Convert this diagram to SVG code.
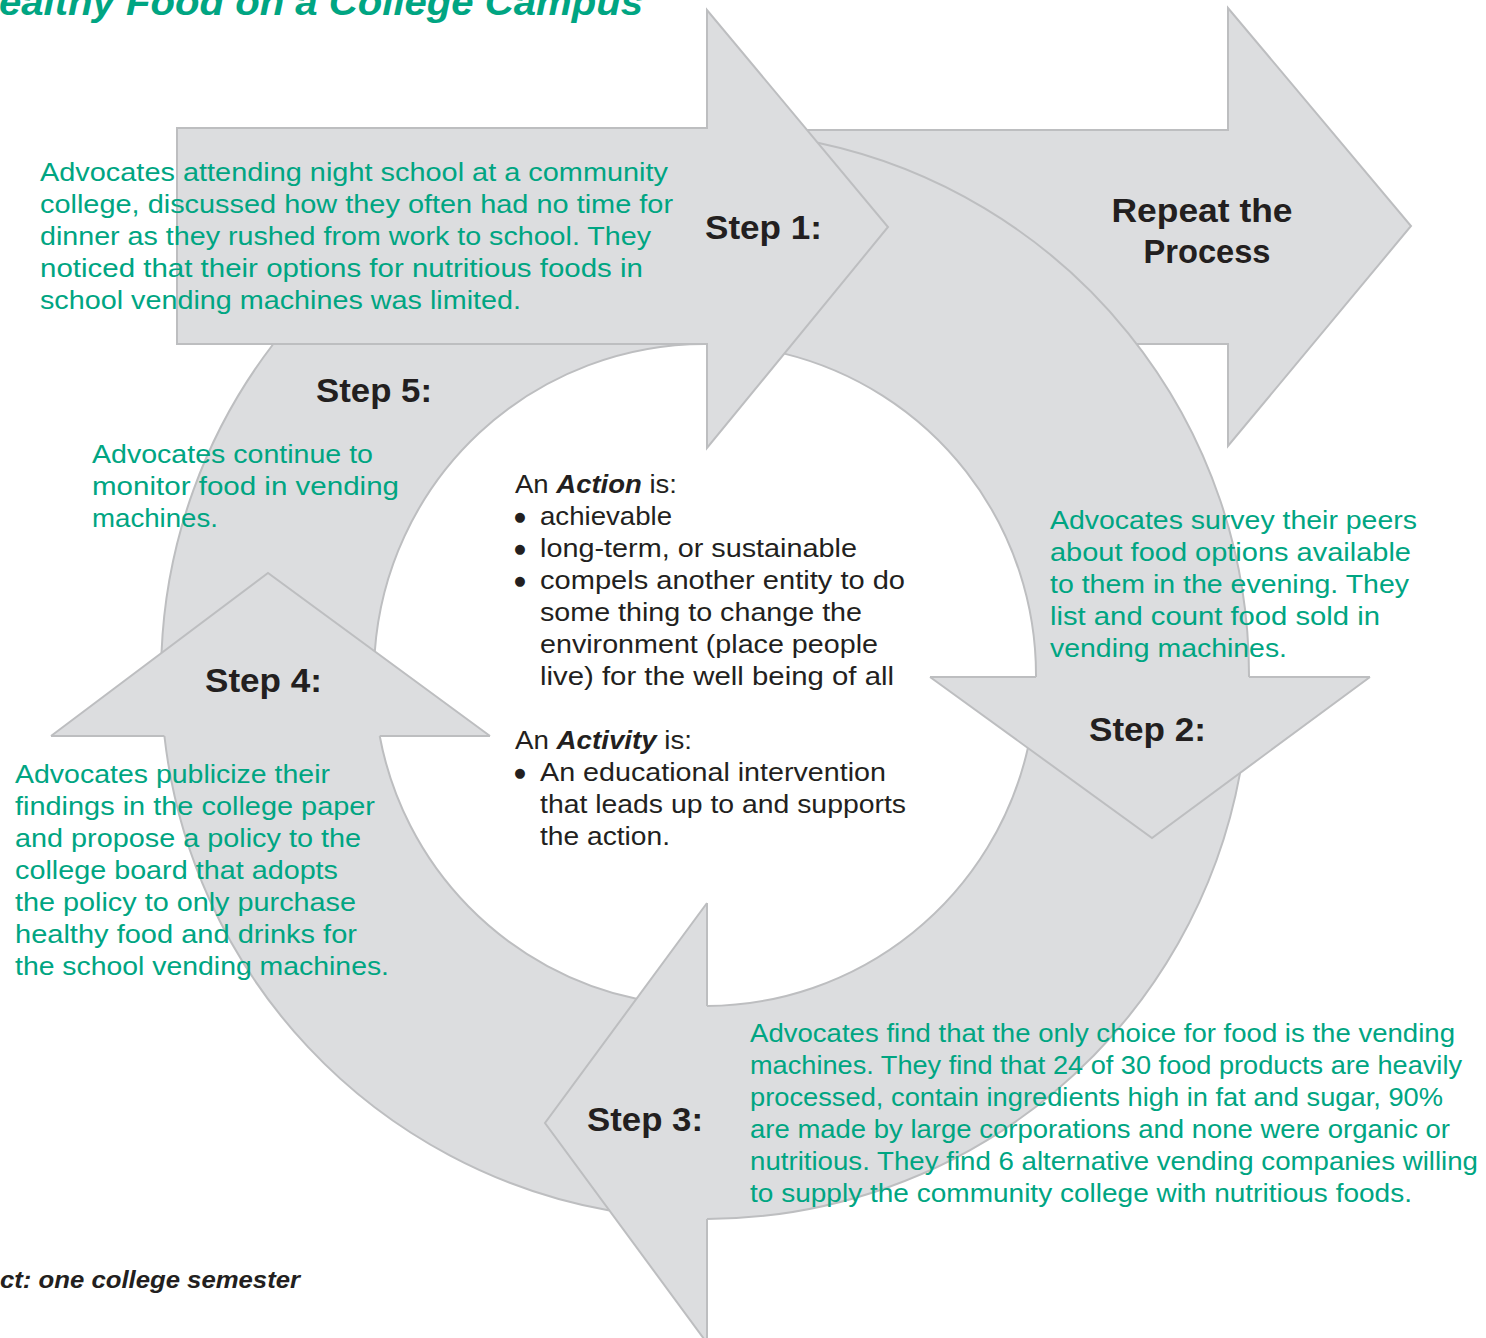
<svg xmlns="http://www.w3.org/2000/svg" width="1486" height="1338" viewBox="0 0 1486 1338">
<style>
.fill{fill:#dcdddf;stroke:none}
.edge{fill:none;stroke:#bdbec0;stroke-width:2;stroke-linejoin:miter}
.g{font-family:"Liberation Sans",Arial,sans-serif;font-size:25px;fill:#00a582}
.b{font-family:"Liberation Sans",Arial,sans-serif;font-size:25px;fill:#231f20}
.bul{font-family:"DejaVu Sans",sans-serif;font-size:13px;fill:#231f20;text-anchor:middle;dominant-baseline:central}
.lab{font-family:"Liberation Sans",Arial,sans-serif;font-size:33px;font-weight:bold;fill:#231f20}
.bi{font-weight:bold;font-style:italic}
</style>
<rect x="0" y="0" width="1486" height="1338" fill="#ffffff"/>
<text x="-1" y="15" class="g" style="font-size:36px;font-weight:bold;font-style:italic" textLength="644" lengthAdjust="spacingAndGlyphs">ealthy Food on a College Campus</text>
<text x="0" y="1288" class="b" style="font-size:24px;font-weight:bold;font-style:italic" textLength="300" lengthAdjust="spacingAndGlyphs">ct: one college semester</text>

<g id="node-repeat">
<polygon class="fill" points="720,130 1228,130 1228,8 1411,226 1228,446 1228,344 720,344"/>
<path class="edge" d="M807 130 L1228 130 L1228 8 L1411 226 L1228 446 L1228 344 L1136.7 344"/>
<text x="1202" y="222" class="lab" text-anchor="middle" textLength="181" lengthAdjust="spacingAndGlyphs">Repeat the</text>
<text x="1207" y="263" class="lab" text-anchor="middle" textLength="127" lengthAdjust="spacingAndGlyphs">Process</text>
</g>

<g id="connectors">
<path class="fill" fill-rule="evenodd" d="M161 675 A544 544 0 1 0 1249 675 A544 544 0 1 0 161 675 Z M374 675 A331 331 0 1 0 1036 675 A331 331 0 1 0 374 675 Z"/>
<path class="edge" d="M817.8 142.8 A544 544 0 0 1 1249 677 M1240.1 772.9 A544 544 0 0 1 707 1219 M609.5 1210.6 A544 544 0 0 1 164.4 736 M161.5 653 A544 544 0 0 1 273.3 344"/>
<path class="edge" d="M784.3 353.6 A331 331 0 0 1 1036 677 M1027.9 748 A331 331 0 0 1 707 1006 M636.4 998.8 A331 331 0 0 1 379.7 736 M374.8 651.5 A331 331 0 0 1 705 344"/>
</g>

<g id="node-step1">
<polygon class="fill" points="177,128 707,128 707,10 888,227 707,448 707,344 177,344"/>
<polygon class="edge" points="177,128 707,128 707,10 888,227 707,448 707,344 177,344"/>
<text x="705" y="239" class="lab" textLength="117" lengthAdjust="spacingAndGlyphs">Step 1:</text>
<text class="g" x="40" y="181" textLength="628" lengthAdjust="spacingAndGlyphs">Advocates attending night school at a community</text>
<text class="g" x="40" y="213" textLength="633" lengthAdjust="spacingAndGlyphs">college, discussed how they often had no time for</text>
<text class="g" x="40" y="245" textLength="611" lengthAdjust="spacingAndGlyphs">dinner as they rushed from work to school. They</text>
<text class="g" x="40" y="277" textLength="603" lengthAdjust="spacingAndGlyphs">noticed that their options for nutritious foods in</text>
<text class="g" x="40" y="309" textLength="481" lengthAdjust="spacingAndGlyphs">school vending machines was limited.</text>
</g>

<g id="node-step2">
<polygon class="fill" points="930,677 1370,677 1152,838"/>
<path class="edge" d="M930 677 L1036 677 M1249 677 L1370 677 M930 677 L1152 838 L1370 677"/>
<text x="1089" y="741" class="lab" textLength="117" lengthAdjust="spacingAndGlyphs">Step 2:</text>
<text class="g" x="1050" y="529" textLength="367" lengthAdjust="spacingAndGlyphs">Advocates survey their peers</text>
<text class="g" x="1050" y="561" textLength="361" lengthAdjust="spacingAndGlyphs">about food options available</text>
<text class="g" x="1050" y="593" textLength="359" lengthAdjust="spacingAndGlyphs">to them in the evening. They</text>
<text class="g" x="1050" y="625" textLength="330" lengthAdjust="spacingAndGlyphs">list and count food sold in</text>
<text class="g" x="1050" y="657" textLength="237" lengthAdjust="spacingAndGlyphs">vending machines.</text>
</g>

<g id="node-step3">
<polygon class="fill" points="707,903 545,1123 707,1343"/>
<path class="edge" d="M707 903 L707 1006 M707 1219 L707 1345 M707 903 L545 1123 L707 1343"/>
<text x="587" y="1131" class="lab" textLength="116" lengthAdjust="spacingAndGlyphs">Step 3:</text>
<text class="g" x="750" y="1042" textLength="705" lengthAdjust="spacingAndGlyphs">Advocates find that the only choice for food is the vending</text>
<text class="g" x="750" y="1074" textLength="712" lengthAdjust="spacingAndGlyphs">machines. They find that 24 of 30 food products are heavily</text>
<text class="g" x="750" y="1106" textLength="693" lengthAdjust="spacingAndGlyphs">processed, contain ingredients high in fat and sugar, 90%</text>
<text class="g" x="750" y="1138" textLength="700" lengthAdjust="spacingAndGlyphs">are made by large corporations and none were organic or</text>
<text class="g" x="750" y="1170" textLength="728" lengthAdjust="spacingAndGlyphs">nutritious. They find 6 alternative vending companies willing</text>
<text class="g" x="750" y="1202" textLength="662" lengthAdjust="spacingAndGlyphs">to supply the community college with nutritious foods.</text>
</g>

<g id="node-step4">
<polygon class="fill" points="51,736 268,573 490,736"/>
<path class="edge" d="M51 736 L164.4 736 M379.7 736 L490 736 M51 736 L268 573 L490 736"/>
<text x="205" y="692" class="lab" textLength="117" lengthAdjust="spacingAndGlyphs">Step 4:</text>
<text class="g" x="15" y="783" textLength="315" lengthAdjust="spacingAndGlyphs">Advocates publicize their</text>
<text class="g" x="15" y="815" textLength="360" lengthAdjust="spacingAndGlyphs">findings in the college paper</text>
<text class="g" x="15" y="847" textLength="346" lengthAdjust="spacingAndGlyphs">and propose a policy to the</text>
<text class="g" x="15" y="879" textLength="323" lengthAdjust="spacingAndGlyphs">college board that adopts</text>
<text class="g" x="15" y="911" textLength="341" lengthAdjust="spacingAndGlyphs">the policy to only purchase</text>
<text class="g" x="15" y="943" textLength="342" lengthAdjust="spacingAndGlyphs">healthy food and drinks for</text>
<text class="g" x="15" y="975" textLength="374" lengthAdjust="spacingAndGlyphs">the school vending machines.</text>
</g>

<g id="node-step5">
<text x="316" y="402" class="lab" textLength="116" lengthAdjust="spacingAndGlyphs">Step 5:</text>
<text class="g" x="92" y="463" textLength="281" lengthAdjust="spacingAndGlyphs">Advocates continue to</text>
<text class="g" x="92" y="495" textLength="307" lengthAdjust="spacingAndGlyphs">monitor food in vending</text>
<text class="g" x="92" y="527" textLength="126" lengthAdjust="spacingAndGlyphs">machines.</text>
</g>

<g id="node-center">
<text class="b" x="515" y="493" textLength="162" lengthAdjust="spacingAndGlyphs">An <tspan class="bi">Action</tspan> is:</text>
<text class="bul" x="520" y="516">●</text>
<text class="b" x="540" y="525" textLength="132" lengthAdjust="spacingAndGlyphs">achievable</text>
<text class="bul" x="520" y="548">●</text>
<text class="b" x="540" y="557" textLength="317" lengthAdjust="spacingAndGlyphs">long-term, or sustainable</text>
<text class="bul" x="520" y="580">●</text>
<text class="b" x="540" y="589" textLength="365" lengthAdjust="spacingAndGlyphs">compels another entity to do</text>
<text class="b" x="540" y="621" textLength="322" lengthAdjust="spacingAndGlyphs">some thing to change the</text>
<text class="b" x="540" y="653" textLength="338" lengthAdjust="spacingAndGlyphs">environment (place people</text>
<text class="b" x="540" y="685" textLength="354" lengthAdjust="spacingAndGlyphs">live) for the well being of all</text>
<text class="b" x="515" y="749" textLength="177" lengthAdjust="spacingAndGlyphs">An <tspan class="bi">Activity</tspan> is:</text>
<text class="bul" x="520" y="772">●</text>
<text class="b" x="540" y="781" textLength="346" lengthAdjust="spacingAndGlyphs">An educational intervention</text>
<text class="b" x="540" y="813" textLength="366" lengthAdjust="spacingAndGlyphs">that leads up to and supports</text>
<text class="b" x="540" y="845" textLength="130" lengthAdjust="spacingAndGlyphs">the action.</text>
</g>
</svg>
